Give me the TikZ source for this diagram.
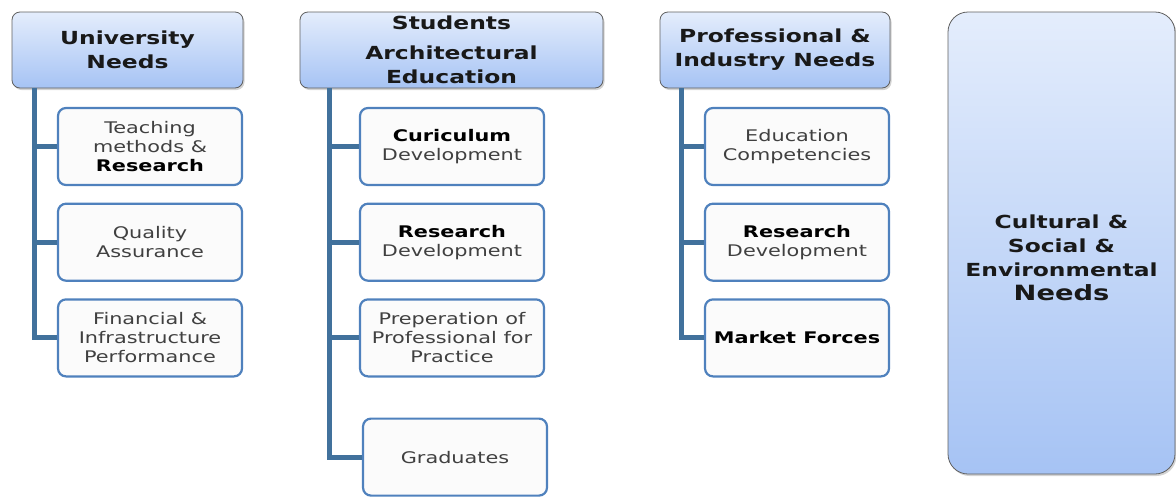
\documentclass[tikz,border=0pt]{standalone}
\usepackage{fontspec}
\setmainfont{DejaVu Sans}[FakeStretch=1.3]
\usepackage{xcolor}
\usetikzlibrary{positioning,shadows}
\definecolor{trunkblue}{HTML}{41719C}
\definecolor{itemblue}{HTML}{4F81BD}
\definecolor{hdtop}{HTML}{E4EDFC}
\definecolor{hdbot}{HTML}{A6C3F4}

\begin{document}
\begin{tikzpicture}[
    x=1pt, y=-1pt,
    node distance=16.5pt,
    header/.style={rectangle, rounded corners=8pt, draw=gray!75!black, line width=0.8pt, top color=hdtop, bottom color=hdbot, drop shadow={opacity=0.35, shadow xshift=1.5pt, shadow yshift=-2pt}, minimum height=76pt, align=center, font=\fontsize{18}{24}\selectfont\bfseries, text=black!90},
    item/.style={rectangle, rounded corners=8pt, draw=itemblue, line width=2.2pt, fill=gray!3, minimum width=184pt, minimum height=77pt, align=center, font=\fontsize{16}{19}\selectfont, text=black!75},
    trunk/.style={draw=trunkblue, line width=5pt}
]
\useasboundingbox (0,0) rectangle (1176,496);

% Headers
\node[header, minimum width=231pt] (uni) at (127.5,50) {University\\Needs};
\node[header, minimum width=303pt] (stud) at (451.5,50) {Students\\[6pt]Architectural\\Education};
\node[header, minimum width=230pt] (prof) at (775,50) {Professional \&\\Industry Needs};
\node[header, minimum width=227pt, minimum height=462pt, rounded corners=20pt] (cult) at (1061.5,243) {\rule{0pt}{44pt}Cultural \&\\Social \&\\Environmental\\{\fontsize{21}{27}\selectfont Needs}};

% University column
\node[item] (u1) at (150,146.5) {Teaching\\methods \&\\\textcolor{black}{\textbf{Research}}};
\node[item, below=of u1] (u2) {Quality\\Assurance};
\node[item, below=of u2] (u3) {Financial \&\\Infrastructure\\Performance};

% Students column
\node[item] (s1) at (452,146.5) {\textcolor{black}{\textbf{Curiculum}}\\Development};
\node[item, below=of s1] (s2) {\textcolor{black}{\textbf{Research}}\\Development};
\node[item, below=of s2] (s3) {Preperation of\\Professional for\\Practice};
\node[item, below=40pt of s3, xshift=3pt] (s4) {Graduates};

% Professional column
\node[item] (p1) at (797,146.5) {Education\\Competencies};
\node[item, below=of p1] (p2) {\textcolor{black}{\textbf{Research}}\\Development};
\node[item, below=of p2] (p3) {\textcolor{black}{\textbf{Market Forces}}};

% Trunks
\coordinate (ut) at ([xshift=23pt]uni.south west);
\coordinate (st) at ([xshift=30pt]stud.south west);
\coordinate (pt) at ([xshift=22pt]prof.south west);
\draw[trunk] (ut) |- (u3.west);
\draw[trunk] (u1.west) -- (u1.west -| ut);
\draw[trunk] (u2.west) -- (u2.west -| ut);
\draw[trunk] (st) |- (s4.west);
\draw[trunk] (s1.west) -- (s1.west -| st);
\draw[trunk] (s2.west) -- (s2.west -| st);
\draw[trunk] (s3.west) -- (s3.west -| st);
\draw[trunk] (pt) |- (p3.west);
\draw[trunk] (p1.west) -- (p1.west -| pt);
\draw[trunk] (p2.west) -- (p2.west -| pt);

\end{tikzpicture}
\end{document}
